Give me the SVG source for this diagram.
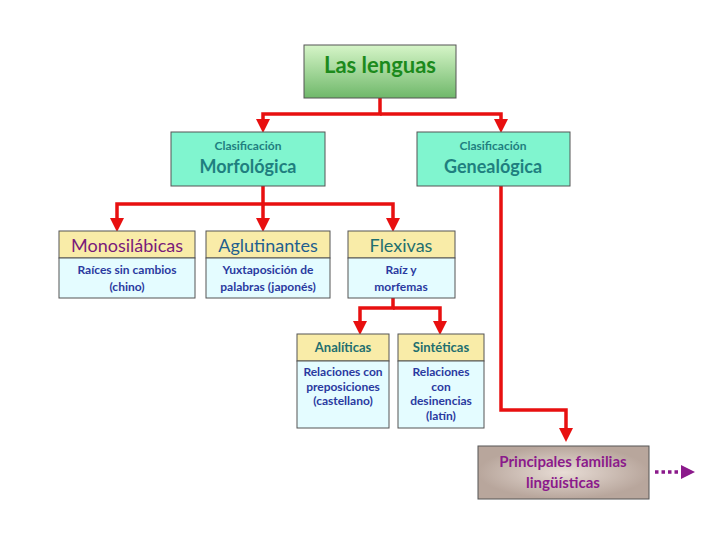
<svg xmlns="http://www.w3.org/2000/svg" width="720" height="540" viewBox="0 0 720 540">
<style>
text{font-family:Lato,"Open Sans","DejaVu Sans",sans-serif;text-anchor:middle;font-weight:bold}
.cl{fill:#1f7f7f}
.hd{fill:#f9eca8;stroke:#555;stroke-width:1}
.bd{fill:#e4fcff;stroke:#555;stroke-width:1}
.bt{fill:#2a3aa0;font-size:12px}
.ht{font-weight:normal;font-size:18px}
.ht2{fill:#1f6f6f;font-size:13px}
.cn{fill:none;stroke:#e81010;stroke-width:3.5;marker-end:url(#a)}
</style>
<defs>
<linearGradient id="g1" x1="0" y1="0" x2="0" y2="1"><stop offset="0" stop-color="#d6f5c8"/><stop offset="1" stop-color="#6fb86a"/></linearGradient>
<radialGradient id="g2"><stop offset="0" stop-color="#e8ddd6"/><stop offset="1" stop-color="#b8a69c"/></radialGradient>
<marker id="a" markerWidth="4" markerHeight="4" refX="2" refY="2" orient="auto" markerUnits="strokeWidth"><path d="M0,0L4,2L0,4z" fill="#e81010"/></marker>
<marker id="p" markerWidth="4" markerHeight="4" refX="2" refY="2" orient="auto" markerUnits="strokeWidth"><path d="M0,0L4,2L0,4z" fill="#8b1a8b"/></marker>
</defs>
<rect width="720" height="540" fill="#fff"/>
<g id="connectors">
<path class="cn" d="M380,98V114H263V126"/>
<path class="cn" d="M380,114H501V126"/>
<path class="cn" d="M263,186V204H117V225"/>
<path class="cn" d="M263,204V225"/>
<path class="cn" d="M263,204H393V225"/>
<path class="cn" d="M393,298V308H360V328"/>
<path class="cn" d="M393,308H440V328"/>
<path class="cn" d="M501,186V410H566V435"/>
<path d="M655,472H688" stroke="#8b1a8b" stroke-width="3.5" stroke-dasharray="3.5,3" fill="none" marker-end="url(#p)"/>
</g>
<g id="lenguas"><rect x="304" y="45" width="152" height="53" fill="url(#g1)" stroke="#555"/><text x="380" y="73" font-size="22" fill="#1c8a1c">Las lenguas</text></g>
<g id="morfologica"><rect x="171" y="132" width="154" height="54" fill="#80f5cf" stroke="#555"/><text x="248" y="150" font-size="12" class="cl">Clasificación</text><text x="248" y="173" font-size="18" class="cl">Morfológica</text></g>
<g id="genealogica"><rect x="417" y="132" width="153" height="54" fill="#80f5cf" stroke="#555"/><text x="493" y="150" font-size="12" class="cl">Clasificación</text><text x="493" y="173" font-size="18" class="cl">Genealógica</text></g>
<g id="monosilabicas"><rect class="hd" x="59" y="231" width="136" height="27"/><rect class="bd" x="59" y="258" width="136" height="40"/><text x="127" y="252" class="ht" fill="#7a1a7a">Monosilábicas</text><text x="127" y="274" class="bt">Raíces sin cambios</text><text x="127" y="291" class="bt">(chino)</text></g>
<g id="aglutinantes"><rect class="hd" x="206" y="231" width="124" height="27"/><rect class="bd" x="206" y="258" width="124" height="40"/><text x="268" y="252" class="ht" fill="#1f5f8f">Aglutinantes</text><text x="268" y="274" class="bt">Yuxtaposición de</text><text x="268" y="291" class="bt">palabras (japonés)</text></g>
<g id="flexivas"><rect class="hd" x="348" y="231" width="107" height="27"/><rect class="bd" x="348" y="258" width="107" height="40"/><text x="401" y="252" class="ht" fill="#1f6f6f">Flexivas</text><text x="401" y="274" class="bt">Raíz y</text><text x="401" y="291" class="bt">morfemas</text></g>
<g id="analiticas"><rect class="hd" x="297" y="334" width="92" height="27"/><rect class="bd" x="297" y="361" width="92" height="67"/><text x="343" y="352" class="ht2">Analíticas</text><text x="343" y="376" class="bt" font-size="11">Relaciones con</text><text x="343" y="391" class="bt" font-size="11">preposiciones</text><text x="343" y="405" class="bt" font-size="11">(castellano)</text></g>
<g id="sinteticas"><rect class="hd" x="398" y="334" width="86" height="27"/><rect class="bd" x="398" y="361" width="86" height="67"/><text x="441" y="352" class="ht2">Sintéticas</text><text x="441" y="376" class="bt" font-size="11">Relaciones</text><text x="441" y="391" class="bt" font-size="11">con</text><text x="441" y="405" class="bt" font-size="11">desinencias</text><text x="441" y="420" class="bt" font-size="11">(latín)</text></g>
<g id="familias"><rect x="478" y="446" width="171" height="53" fill="url(#g2)" stroke="#555"/><text x="563" y="467" font-size="15" fill="#8b1a8b">Principales familias</text><text x="563" y="488" font-size="15" fill="#8b1a8b">lingüísticas</text></g>
</svg>
